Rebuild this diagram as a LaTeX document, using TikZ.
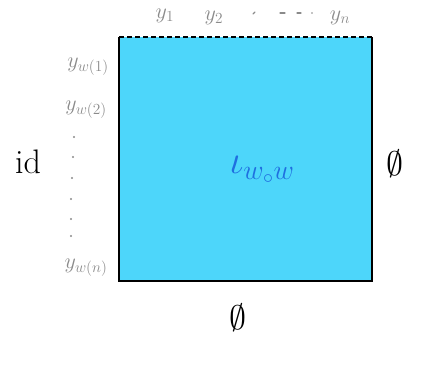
\RequirePackage{fix-cm}
\documentclass[tikz,border=0pt]{standalone}
\usepackage{amssymb}
\definecolor{boxfill}{HTML}{4DD6FA}
\definecolor{lblgray}{HTML}{8A8A8A}
\definecolor{iotablue}{HTML}{1F6FE0}
\begin{document}
\begin{tikzpicture}[x=1pt,y=-1pt,
  glabel/.style={text=lblgray,font=\fontsize{22}{26}\selectfont,inner sep=0pt},
  blabel/.style={font=\fontsize{34}{40}\selectfont,inner sep=0pt},
  gmark/.style={draw=lblgray,line width=1.2pt,line cap=round}]
\useasboundingbox (0,0) rectangle (437,367);
\coordinate (tl) at (119,37);
\coordinate (tr) at (372,37);
\coordinate (br) at (372,281);
\coordinate (bl) at (119,281);
\fill[boxfill] (tl) rectangle (br);
\draw[line width=2.6pt] (tr) -- (br) -- (bl) -- (tl);
\draw[line width=2.6pt,dash pattern=on 5pt off 3pt] (tl) -- (tr);
% top labels
\node[glabel] (y1) at (165,16) {$y_1$};
\node[glabel] (y2) at (214,18) {$y_2$};
\node[glabel] (yn) at (340,18) {$y_n$};
\draw[gmark] (253,14) -- (255,12);
\draw[gmark] (280,13) -- (285,13);
\draw[gmark] (297,13) -- (301,13);
\fill[lblgray] (312,13) circle (0.8pt);
% left labels
\node[glabel] (yw1) at (88,67) {$y_{w(1)}$};
\node[glabel] (yw2) at (86,110) {$y_{w(2)}$};
\node[glabel] (yw3) at (86,268) {$y_{w(n)}$};
\foreach \yy/\xx in {137/74,157/73,178/72,199/71,219/71,236/71}
  \fill[lblgray] (\xx,\yy) circle (1.1pt);
% side labels
\node[blabel] (id) at (28,162) {id};
\node[blabel] (er) at (395,164) {$\emptyset$};
\node[blabel] (eb) at (238,318) {$\emptyset$};
\node[text=iotablue,font=\fontsize{40}{46}\selectfont,inner sep=0pt] (iota) at (262,170) {$\iota_{w_\circ w}$};
\end{tikzpicture}
\end{document}
